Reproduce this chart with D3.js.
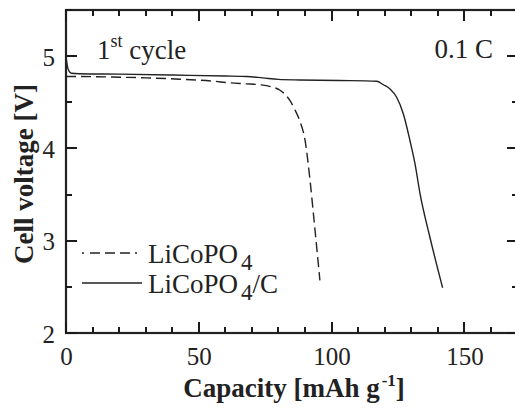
<!DOCTYPE html>
<html>
<head>
<meta charset="utf-8">
<script src="https://cdn.jsdelivr.net/npm/d3@7"></script>
<style>
  body { margin: 0; background: #fff; }
  svg text { font-family: "Liberation Serif", "Times New Roman", serif; fill: #222; }
</style>
</head>
<body>
<div class="chart"></div>
<script>
// Discharge curves (capacity in mAh/g, voltage in V)
const capBare  = [0, 2, 10, 20, 30, 43, 55, 62, 68, 73, 77, 80.6, 82.5, 84.3, 86, 88, 90, 91.9, 93.4, 95.6]
const voltBare = [4.78, 4.78, 4.778, 4.772, 4.765, 4.75, 4.73, 4.71, 4.70, 4.69, 4.67, 4.63, 4.585, 4.52, 4.43, 4.30, 4.09, 3.65, 3.22, 2.57]

const capCarbon  = [0, 0.3, 0.7, 1.2, 2, 5, 20, 40, 60, 68, 74, 80, 88, 103, 117, 119.5, 122, 124.5, 127, 129.5, 131.4, 133.3, 137, 141.8]
const voltCarbon = [5.0, 4.93, 4.87, 4.835, 4.815, 4.81, 4.805, 4.795, 4.785, 4.78, 4.765, 4.748, 4.742, 4.736, 4.728, 4.69, 4.645, 4.555, 4.375, 4.086, 3.835, 3.51, 3.04, 2.49]

const xMajor = [0, 50, 100, 150]
const xMinor = d3.range(0, 171, 10)
const yMajor = [2, 3, 4, 5]
const yMinor = [2.5, 3.5, 4.5, 5.5]

const series = [
    { name: "LiCoPO", sub: "4", tail: "", cap: capBare, volt: voltBare, dash: "10,5" },
    { name: "LiCoPO", sub: "4", tail: "/C", cap: capCarbon, volt: voltCarbon, dash: null }
]

const width = 515
const height = 410
const svg = d3.select(".chart").append("svg")
    .attr("width", width)
    .attr("height", height)

// Scales
const x = d3.scaleLinear().domain([0, 170]).range([66, 517.5])
const y = d3.scaleLinear().domain([2, 5.5]).range([333, 10])
const [plotL, plotR] = x.range()
const [plotB, plotT] = y.range()

// Tick labels
const xLab = svg.append("g")
    .attr("transform", `translate(0,${plotB})`)
    .call(d3.axisBottom(x).tickValues(xMajor).tickSize(0).tickPadding(0))
xLab.select(".domain").remove()
xLab.selectAll("text")
    .attr("y", 32).attr("dy", 0)
    .style("font-size", "25px")

const yLab = svg.append("g")
    .attr("transform", `translate(${plotL},0)`)
    .call(d3.axisLeft(y).tickValues(yMajor).tickFormat(d3.format("d")).tickSize(0).tickPadding(11))
yLab.select(".domain").remove()
yLab.selectAll("text")
    .attr("dy", "0.36em")
    .style("font-size", "25px")

// Curves
const line = d3.line().x(d => x(d[0])).y(d => y(d[1])).curve(d3.curveMonotoneX)
svg.append("g").selectAll("path")
    .data(series)
    .join("path")
    .attr("d", d => line(d.cap.map((c, i) => [c, d.volt[i]])))
    .attr("fill", "none")
    .attr("stroke", "#222")
    .attr("stroke-width", 1.4)
    .attr("stroke-dasharray", d => d.dash)

// Frame
svg.append("rect")
    .attr("x", plotL).attr("y", plotT)
    .attr("width", plotR - plotL).attr("height", plotB - plotT)
    .attr("fill", "none").attr("stroke", "#222").attr("stroke-width", 2.2)

// Inward ticks on all four sides, one path
const tp = d3.path()
const addX = (vals, len) => vals.forEach(v => {
    tp.moveTo(x(v), plotB); tp.lineTo(x(v), plotB - len)
    tp.moveTo(x(v), plotT); tp.lineTo(x(v), plotT + len)
})
const addY = (vals, len) => vals.forEach(v => {
    tp.moveTo(plotL, y(v)); tp.lineTo(plotL + len, y(v))
    tp.moveTo(plotR, y(v)); tp.lineTo(plotR - len, y(v))
})
addX(xMinor, 6)
addX(xMajor, 11)
addY(yMinor, 6)
addY(yMajor, 11)
svg.append("path")
    .attr("d", tp.toString())
    .attr("fill", "none")
    .attr("stroke", "#1a1a1a")
    .attr("stroke-width", 2)
    .attr("shape-rendering", "crispEdges")

// Axis titles
const xt = svg.append("text")
    .attr("x", 294).attr("y", 397)
    .attr("text-anchor", "middle")
    .style("font-size", "27px").style("font-weight", "bold")
xt.append("tspan").text("Capacity [mAh g")
xt.append("tspan").attr("dy", -11).attr("dx", 2).style("font-size", "17px").text("-1")
xt.append("tspan").attr("dy", 11).text("]")

svg.append("text")
    .attr("transform", "translate(33,174) rotate(-90)")
    .attr("text-anchor", "middle")
    .style("font-size", "27px").style("font-weight", "bold")
    .text("Cell voltage [V]")

// Annotations
const cyc = svg.append("text")
    .attr("x", 97).attr("y", 59)
    .style("font-size", "27px")
cyc.append("tspan").text("1")
cyc.append("tspan").attr("dy", -12).style("font-size", "18px").text("st")
cyc.append("tspan").attr("dy", 12).text(" cycle")

svg.append("text")
    .attr("x", 493).attr("y", 58)
    .attr("text-anchor", "end")
    .style("font-size", "27px")
    .text("0.1 C")

// Legend
const leg = svg.append("g")
    .selectAll("g")
    .data(series)
    .join("g")
    .attr("transform", (d, i) => `translate(82,${253 + i * 30})`)
leg.append("line")
    .attr("x1", 0).attr("x2", 60)
    .attr("stroke", "#222").attr("stroke-width", 1.4)
    .attr("stroke-dasharray", d => d.dash ? "2,6,10,5,10,5,10,5" : null)
const legText = leg.append("text")
    .attr("x", 66).attr("y", 10)
    .style("font-size", "27px")
legText.append("tspan").text(d => d.name)
legText.append("tspan").attr("dx", 3).attr("dy", 7).style("font-size", "23px").text(d => d.sub)
legText.append("tspan").attr("dy", -7).text(d => d.tail)
</script>
</body>
</html>
